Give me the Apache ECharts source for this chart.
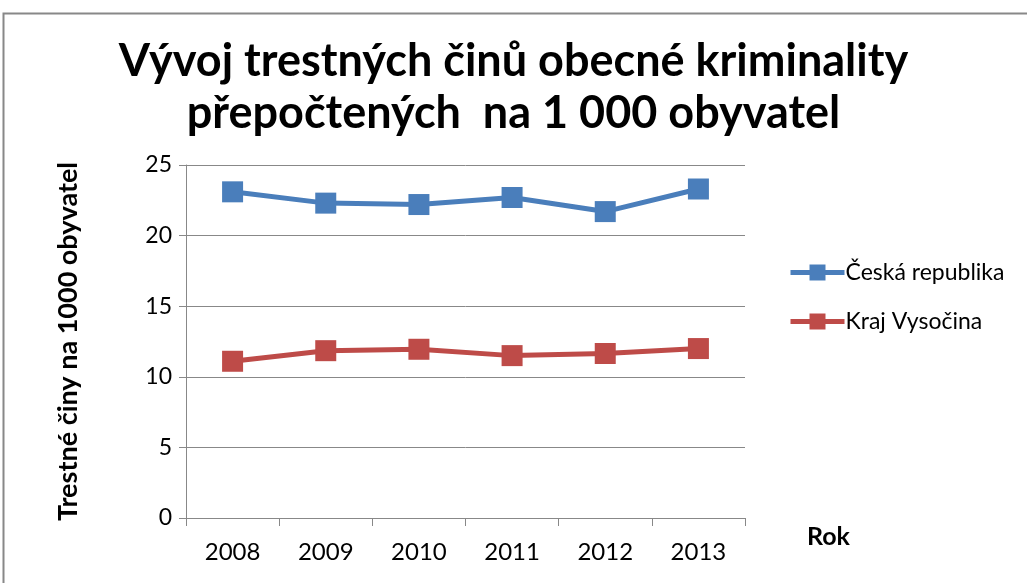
<!DOCTYPE html>
<html>
<head>
<meta charset="utf-8">
<script src="https://cdn.jsdelivr.net/npm/echarts@6/dist/echarts.min.js"></script>
<style>
  html, body { margin: 0; padding: 0; background: #fff; }
  #chart_box { width: 1027px; height: 583px; }
</style>
</head>
<body>
<div id="chart_box"></div>
<script>
(function() {

    // data
    var years = ['2008', '2009', '2010', '2011', '2012', '2013'];
    var ceskaRepublika = [23.1, 22.3, 22.2, 22.7, 21.7, 23.3];
    var krajVysocina = [11.1, 11.85, 11.95, 11.5, 11.65, 12.0];
    var yTicks = [0, 5, 10, 15, 20, 25];

    var font = 'Lato, "Open Sans", sans-serif';

    var myChart = echarts.init(document.getElementById('chart_box'));

    myChart.setOption({
        color: ['#4a7ebb', '#be4b48'],
        animation: false,
        title: {
            text: 'Vývoj trestných činů obecné kriminality\npřepočtených  na 1 000 obyvatel',
            left: 'center',
            top: 30,
            textStyle: {
                color: '#000',
                fontFamily: font,
                fontWeight: 'bold',
                fontSize: 45,
                lineHeight: 52
            }
        },
        graphic: [{
            type: 'rect',
            shape: { x: 3.5, y: 13.5, width: 1100, height: 700 },
            style: { fill: 'none', stroke: '#888', lineWidth: 2 },
            silent: true
        }],
        grid: {
            left: 186,
            right: 282,
            top: 165,
            bottom: 65
        },
        legend: {
            orient: 'vertical',
            left: 783,
            top: 256,
            itemGap: 26,
            itemWidth: 54,
            itemHeight: 20,
            lineStyle: { width: 5 },
            textStyle: {
                color: '#000',
                fontFamily: font,
                fontSize: 23,
                padding: [0, 0, 0, -4]
            },
            data: ['Česká republika', 'Kraj Vysočina']
        },
        xAxis: {
            type: 'category',
            data: years,
            boundaryGap: true,
            name: 'Rok',
            nameLocation: 'end',
            nameGap: 62,
            nameTextStyle: {
                color: '#000',
                fontFamily: font,
                fontWeight: 'bold',
                fontSize: 25,
                verticalAlign: 'top',
                padding: [6, 0, 0, 0]
            },
            axisLine: { lineStyle: { color: '#888', width: 1 } },
            axisTick: { show: true, length: 8, lineStyle: { color: '#888' } },
            axisLabel: {
                color: '#000',
                fontFamily: font,
                fontSize: 24,
                margin: 22
            }
        },
        yAxis: {
            type: 'value',
            min: yTicks[0],
            max: yTicks[yTicks.length - 1],
            interval: 5,
            name: 'Trestné činy na 1000 obyvatel',
            nameLocation: 'middle',
            nameGap: 104,
            nameTextStyle: {
                color: '#000',
                fontFamily: font,
                fontWeight: 'bold',
                fontSize: 27
            },
            axisLine: { show: true, lineStyle: { color: '#888', width: 1 } },
            axisTick: { show: true, length: 7, lineStyle: { color: '#888' } },
            axisLabel: {
                color: '#000',
                fontFamily: font,
                fontSize: 23,
                margin: 14
            },
            splitLine: { lineStyle: { color: '#888', width: 1 } }
        },
        series: [{
            name: 'Česká republika',
            type: 'line',
            data: ceskaRepublika,
            symbol: 'rect',
            symbolSize: 21,
            lineStyle: { width: 5 },
            itemStyle: { borderWidth: 0 }
        }, {
            name: 'Kraj Vysočina',
            type: 'line',
            data: krajVysocina,
            symbol: 'rect',
            symbolSize: 21,
            lineStyle: { width: 5 },
            itemStyle: { borderWidth: 0 }
        }]
    });
})();
</script>
</body>
</html>
